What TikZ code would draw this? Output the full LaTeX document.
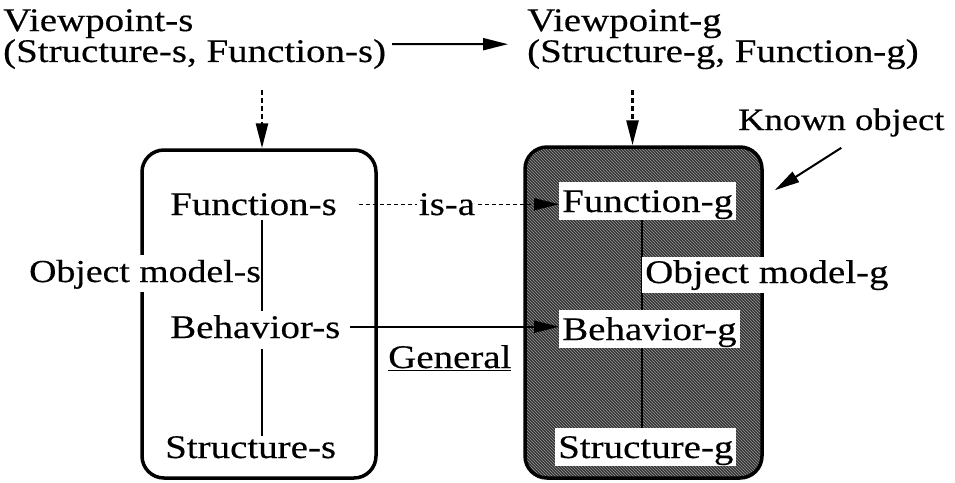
\documentclass[tikz,border=0pt]{standalone}
\usepackage{fontspec}
\setmainfont{Liberation Serif}[FakeStretch=1.18, FakeBold=0.3]
\usetikzlibrary{arrows.meta,patterns,calc}
\pgfdeclarelayer{boxes}
\pgfdeclarelayer{guides}
\pgfsetlayers{boxes,guides,main}

\begin{document}
\begin{tikzpicture}[x=1pt,y=-1pt,
  txt/.style={inner sep=0pt, anchor=base west, font=\fontsize{33}{27}\selectfont},
  narrow/.style={font=\fontsize{31}{27}\selectfont},
  lbl/.style={txt, fill=white, inner xsep=3pt, inner ysep=3pt, text height=27pt, text depth=5pt},
  tip/.style={-{Triangle[length=25pt,width=12pt]}},
  viewarrow/.style={tip, line width=2.6pt, dash pattern=on 5pt off 3pt},
  objbox/.style={rounded corners=22pt, line width=3.5pt, minimum width=234pt, minimum height=328pt, inner sep=0pt}
]
\useasboundingbox (0,0) rectangle (955,482);

% object boxes
\begin{pgfonlayer}{boxes}
  \node[objbox, draw, fill=white] (objs) at (259,314) {};
  \node[objbox, draw, minimum width=237pt, minimum height=331pt,
        preaction={fill=black!80},
        pattern=north west lines, pattern color=white!60!black] (objg) at (643.5,312.5) {};
\end{pgfonlayer}

% viewpoints and caption
\node[txt, align=left, anchor=north west] (vps) at (3,9) {Viewpoint-s\\(Structure-s, Function-s)};
\node[txt, align=left, anchor=north west] (vpg) at (527,9) {Viewpoint-g\\(Structure-g, Function-g)};
\node[txt, narrow] (known) at (738,130) {Known object};

% object model-s
\node[txt] (fs) at (170,215) {Function-s};
\node[txt] (bs) at (170,338) {Behavior-s};
\node[txt] (ss) at (165,458) {Structure-s};
\node[txt, font=\fontsize{32}{27}\selectfont, fill=white, inner xsep=1pt, inner ysep=2pt, text height=25pt, text depth=8pt] (om) at (28,282) {Object model-s};

% object model-g
\node[lbl] (fg) at (559,212) {Function-g};
\node[lbl] (bg) at (559,340) {Behavior-g};
\node[lbl] (sg) at (555,458) {Structure-g};
\node[lbl, text height=23pt, text depth=7pt] (omg) at (642,283) {Object model-g};

\node[txt] (gen) at (388,368) {\underline{General}};

% part-of lines
\draw[line width=1.5pt, shorten <=4pt, shorten >=4pt] (fs.south -| om.east) -- (bs.north -| om.east);
\draw[line width=1.5pt, shorten <=10pt] (bs.south -| om.east) -- (ss.north -| om.east);
\begin{pgfonlayer}{guides}
  \draw[line width=1.2pt] (fg.south -| omg.west) -- (sg.north -| omg.west);
\end{pgfonlayer}

% connectors
\draw[tip, line width=2pt] ([shift={(6,5)}]vps.east) -- ([shift={(-19,5)}]vpg.west);
\draw[viewarrow] ([xshift=3pt,yshift=58pt]objs.north) -- ([xshift=3pt]objs.north);
\draw[viewarrow] ([xshift=-11pt,yshift=55pt]objg.north) -- ([xshift=-11pt]objg.north);
\draw[tip, line width=2pt] ([yshift=-11pt]known.south) -- ([shift={(11,45)}]objg.north east);
\draw[tip, line width=1.4pt, dash pattern=on 4pt off 3pt] ([xshift=22pt]fs.east) -- (fs.east -| fg.west)
  node[pos=0.44, fill=white, font=\fontsize{33}{27}\selectfont, inner xsep=2pt, inner ysep=1pt] (isa) {is-a};
\draw[tip, line width=1.8pt] ([xshift=10pt]bs.east) -- (bs.east -| bg.west);
\end{tikzpicture}
\end{document}
